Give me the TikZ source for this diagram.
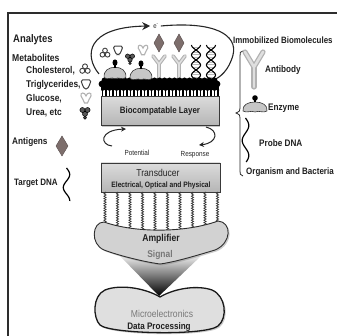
\documentclass[tikz,border=0pt]{standalone}
\usepackage{fontspec}
\setmainfont[FakeStretch=0.86]{Liberation Sans}
\usetikzlibrary{arrows.meta,decorations.pathmorphing,shadows,calc}

\definecolor{antigen}{RGB}{125,110,108}
\definecolor{softtext}{gray}{0.47}

\tikzset{
  enzyme/.pic={
    \draw[fill=gray!45, draw=black!80, line width=0.6]
      (-12,4) .. controls (-13,-2) and (-7,-5) .. (0,-5)
      .. controls (7,-5) and (13,-2) .. (12,4)
      .. controls (8,6.5) and (4,3) .. (0,5)
      .. controls (-4,3) and (-8,6.5) .. (-12,4) -- cycle;
    \draw[line width=1.3, black] (0,-4.5) -- (0,-8);
    \fill[black] (0,-9) circle (2.8);
  },
  trefoil/.pic={
    \foreach \p in {(0,-2.6),(-2.7,1.8),(2.7,1.8)}
      \draw[fill=white, draw=black!75, line width=0.9] \p circle (2.5);
  },
  cup/.pic={
    \draw[fill=white, draw=black!75, line width=1, rounded corners=1.5]
      (-5,-4) -- (5,-4) -- (4,0) -- (1.5,5) -- (-1.5,5) -- (-4,0) -- cycle;
  },
  sugar/.pic={
    \draw[fill=white, draw=gray!60, line width=1.1]
      (0,-2) .. controls (-1,-6) and (-6,-6) .. (-5,-2)
      .. controls (-4,1) and (-2,2) .. (-1.5,5) -- (1.5,5)
      .. controls (2,2) and (4,1) .. (5,-2)
      .. controls (6,-6) and (1,-6) .. (0,-2) -- cycle;
  },
  urea/.pic={
    \filldraw[fill=black!65, draw=black, line width=0.5]
      (-2.6,-2) circle (2.5) (2.6,-2) circle (2.5) (0,2) circle (2.5);
    \filldraw[fill=black!65, draw=black, line width=0.5] (0,5.8) circle (1.5);
  }
}

\begin{document}
\begin{tikzpicture}[x=1pt,y=-1pt,
  txt/.style={inner sep=0pt, text=black!88, font=\bfseries\fontsize{#1}{#1}\selectfont},
  rtxt/.style={inner sep=0pt, text=black!85, font=\fontsize{#1}{#1}\selectfont},
  layerbox/.style={draw=gray!45!black, line width=0.6, top color=gray!28, bottom color=gray!58,
    drop shadow={shadow xshift=1.2pt, shadow yshift=-1.5pt, opacity=0.45}, inner sep=0pt},
  wire/.style={decorate, decoration={zigzag, segment length=2.4pt, amplitude=1.1pt},
    line width=0.7, black!80},
  flow/.style={line width=1, black!85},
  abouter/.style={line width=#1, gray!60, line cap=round, line join=round},
  abinner/.style={line width=#1, gray!25, line cap=round, line join=round},
  gem/.style={fill=antigen, draw=antigen!70!black, line width=0.4},
  strand/.style={line width=1.1, black},
  rung/.style={line width=0.6, gray!55}
]
\useasboundingbox (0,0) rectangle (337,336);

% frame
\draw[line width=1.4, gray!35!black] (8,336) -- (8,13) -- (337,13);

% ---------- analytes legend ----------
\node[txt=11, anchor=west] (analytes) at (13,40) {Analytes};
\node[txt=10, anchor=west] (metab) at (12,58) {Metabolites};
\node[txt=9.8, anchor=west] (chol) at (26,71) {Cholesterol,};
\node[txt=9.8, anchor=west] (trig) at (26,85) {Triglycerides,};
\node[txt=9.8, anchor=west] (gluc) at (26,99) {Glucose,};
\node[txt=9.8, anchor=west] (urea) at (26,113) {Urea, etc};
\pic at (85,69) {trefoil};
\pic at (86,84) {cup};
\pic at (86,98) {sugar};
\pic at (85,112) {urea};

\node[txt=9.6, anchor=west] (antigens) at (12,142) {Antigens};
\fill[gem] (62,136) -- (68,146) -- (62,156) -- (56,146) -- cycle;

\node[txt=9.3, anchor=west] (target) at (14,183) {Target DNA};
\draw[strand, line width=1.2] plot[domain=168:201, samples=40, variable=\t]
  ({66.5+3.2*sin(360*(\t-168)/26)}, \t);

% ---------- immobilized biomolecules legend ----------
\node[txt=9.2, anchor=west] (immob) at (233,40) {Immobilized Biomolecules};
\draw[line width=0.8, black!85]
  (243,51) .. controls (240,51) and (240,53) .. (240,56) -- (240,108)
  .. controls (240,111) .. (236,113) .. controls (240,115) .. (240,118)
  -- (240,171) .. controls (240,174) and (240,175) .. (243,176);

\draw[abouter=5.2] (245,52) -- (254,67) -- (263,52);
\draw[abouter=5.2] (254,67) -- (254,87);
\draw[abinner=2.6] (245,52) -- (254,67) -- (263,52);
\draw[abinner=2.6] (254,67) -- (254,87);
\node[txt=9.5, anchor=west] (antibody) at (265,70) {Antibody};

\pic at (255,107) {enzyme};
\node[txt=9.5, anchor=west] (enz) at (268,108) {Enzyme};

\draw[strand, line width=1.2] plot[domain=118:162, samples=50, variable=\t]
  ({245.5+3.3*sin(360*(\t-118)/30)}, \t);
\node[txt=9.5, anchor=west] (probe) at (259,143) {Probe DNA};
\node[txt=9.3, anchor=west] (organism) at (246,172) {Organism and Bacteria};

% ---------- electron loop ----------
\node[rtxt=7] (eminus) at (156,26) {e\textsuperscript{-}};
\coordinate (loopstart) at (99,74);
\coordinate (loopend) at (213,80);
\draw[flow, line width=1.1, -{Stealth[length=8pt,width=8pt]}]
  (loopstart) .. controls (84,56) and (86,27) .. ([xshift=-3pt]eminus.west);
\draw[flow, line width=1.1]
  ([xshift=2pt]eminus.east) .. controls (215,21) and (238,35) .. (233,55)
  .. controls (229,70) and (220,78) .. (loopend);

% ---------- surface: antibodies with antigens ----------
\foreach \ax in {159,179} {
  \draw[abouter=3.8] (\ax-6,56) -- (\ax,64) -- (\ax+6,56);
  \draw[abouter=3.8] (\ax,64) -- (\ax,82);
  \draw[abinner=1.6] (\ax-6,56) -- (\ax,64) -- (\ax+6,56);
  \draw[abinner=1.6] (\ax,64) -- (\ax,82);
  \fill[gem] (\ax,34) -- (\ax+5,43) -- (\ax,52) -- (\ax-5,43) -- cycle;
}

% ---------- surface: DNA double helices ----------
\foreach \hx in {196,211} {
  \foreach \t in {47,49.5,...,80}
    \draw[rung] ({\hx-4.5*cos(360*(\t-45)/20)},\t) -- ({\hx+4.5*cos(360*(\t-45)/20)},\t);
  \draw[strand] plot[domain=45:82, samples=50, variable=\t] ({\hx+4.5*cos(360*(\t-45)/20)}, \t);
  \draw[strand] plot[domain=45:82, samples=50, variable=\t] ({\hx-4.5*cos(360*(\t-45)/20)}, \t);
}

% ---------- surface: free analytes ----------
\pic[scale=0.95] at (105,53) {trefoil};
\pic[scale=0.95] at (118,50) {cup};
\pic[scale=0.9] at (130,58) {urea};
\pic[scale=0.95] at (143,50) {sugar};

% ---------- surface: black immobilising layer ----------
\fill[black] (101,82) rectangle (219,90);
\foreach \bx in {102,107,...,217} \fill[black] (\bx,84) circle (3.4);
\foreach \bx in {104.5,109.5,...,217} \fill[black] (\bx,80.5) circle (3);
\foreach \tx in {102.5,106,...,218} {
  \draw[line width=1.5, black] (\tx,89) -- (\tx,96.5);
  \fill[black] (\tx,90) circle (1.3);
}

% enzymes resting on the layer
\pic[xscale=0.9, yscale=1.15] at (115,73) {enzyme};
\pic[xscale=0.9, yscale=1.15] at (141,74) {enzyme};

% ---------- biocompatible layer ----------
\node[layerbox, minimum width=118pt, minimum height=29pt, txt=9.2] (bio) at (160,111)
  {Biocompatable Layer};

\coordinate (potA) at (112,146);
\coordinate (potB) at (126,129);
\draw[flow, -{Stealth[length=5pt,width=5pt]}]
  (potA) .. controls (100,145) and (99,130) .. (potB);
\node[rtxt=7.4] (potential) at (137,153) {Potential};

\coordinate (respA) at (206,127);
\coordinate (respB) at (199,145);
\draw[flow, -{Stealth[length=5pt,width=5pt]}]
  (respA) .. controls (219,130) and (218,143) .. (respB);
\node[rtxt=7.4] (response) at (195,155) {Response};

% ---------- transducer ----------
\node[layerbox, minimum width=119pt, minimum height=29pt] (trans) at (160.5,177.5) {};
\node[rtxt=10] (transtxt) at (158,172.5) {Transducer};
\node[txt=7.8] (transsub) at (161,185) {Electrical, Optical and Physical};

% signal wires
\foreach \wx [count=\i] in {105,117.5,130,142.5,155,167.5,180,192.5,205,217.5} {
  \pgfmathsetmacro\wy{224.5+9*(1-((\wx-161)/57)^2)}
  \coordinate (wa\i) at (\wx,192);
  \coordinate (wb\i) at (\wx,\wy);
  \draw[wire] (wa\i) -- (wb\i);
}

% ---------- funnel and amplifier ----------
\shade[top color=gray!15, bottom color=black] (120,256) -- (201,256) -- (159,296) -- cycle;

\draw[fill=gray!35, draw=gray!35!black, line width=0.9,
      drop shadow={shadow xshift=1.5pt, shadow yshift=-1.5pt, opacity=0.4}]
  (104,222) .. controls (135,233) and (185,233) .. (218,221)
  .. controls (232,222) and (232,243) .. (215,250)
  .. controls (195,256) and (175,262) .. (160,264)
  .. controls (145,262) and (120,256) .. (104,250)
  .. controls (90,244) and (92,222) .. (104,222) -- cycle;
\node[txt=10] (amp) at (161,239) {Amplifier};
\node[txt=9.8, text=softtext] (signal) at (160,255) {Signal};

% ---------- microelectronics ----------
\draw[fill=gray!25, draw=black!90, line width=1.3,
      drop shadow={shadow xshift=1.5pt, shadow yshift=-1.5pt, opacity=0.4}]
  (160,297) .. controls (145,288) and (120,284) .. (105,290)
  .. controls (92,296) and (93,318) .. (100,325)
  .. controls (110,334) and (205,336) .. (218,326)
  .. controls (228,318) and (226,296) .. (212,290)
  .. controls (198,285) and (175,288) .. (160,297) -- cycle;
\node[rtxt=10, text=softtext] (micro) at (162,314) {Microelectronics};
\node[txt=9.4] (dataproc) at (159,327) {Data Processing};

\end{tikzpicture}
\end{document}
